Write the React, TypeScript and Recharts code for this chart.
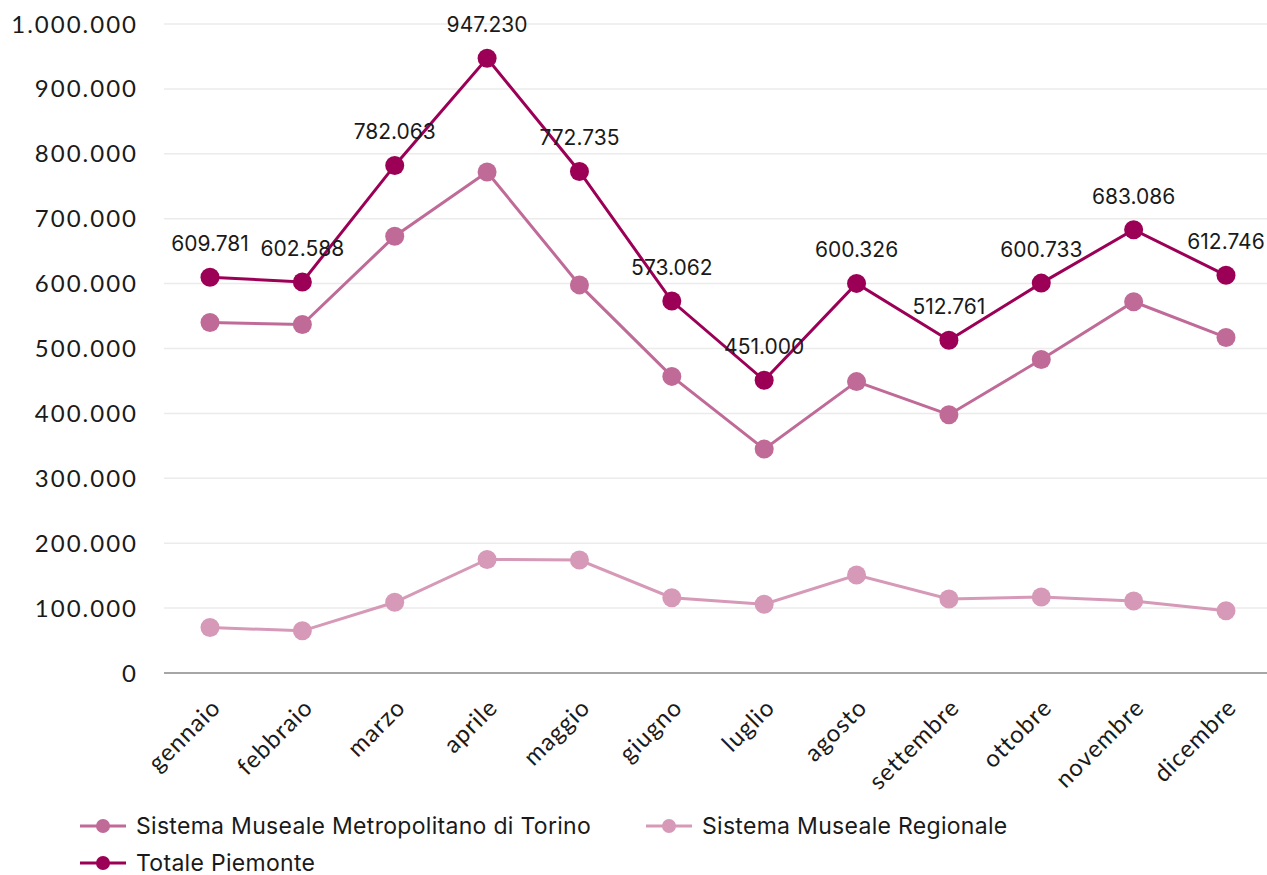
import React from "react";
import {
  LineChart,
  Line,
  XAxis,
  YAxis,
  CartesianGrid,
  Legend,
  LabelList,
} from "recharts";

const months = [
  "gennaio",
  "febbraio",
  "marzo",
  "aprile",
  "maggio",
  "giugno",
  "luglio",
  "agosto",
  "settembre",
  "ottobre",
  "novembre",
  "dicembre",
];

const metropolitano = [
  540000, 537000, 673000, 772000, 598000, 457000, 345000, 449000, 398000,
  483000, 572000, 517000,
];

const regionale = [
  70000, 65000, 109000, 175000, 174000, 116000, 106000, 151000, 114000,
  117000, 111000, 96000,
];

const totale = [
  609781, 602588, 782063, 947230, 772735, 573062, 451000, 600326, 512761,
  600733, 683086, 612746,
];

const yTicks = [0, 100000, 200000, 300000, 400000, 500000, 600000, 700000, 800000, 900000, 1000000];

const series = [
  { key: "metro", name: "Sistema Museale Metropolitano di Torino", color: "#c06a98" },
  { key: "reg", name: "Sistema Museale Regionale", color: "#d699b8" },
  { key: "tot", name: "Totale Piemonte", color: "#9c0056" },
];

const data = months.map((m, i) => ({
  month: m,
  metro: metropolitano[i],
  reg: regionale[i],
  tot: totale[i],
}));

const fmt = (v: number) => v.toLocaleString("de-DE");

const FONT = "Lato, 'Open Sans', sans-serif";

function MyLegend() {
  return (
    <div
      style={{
        display: "flex",
        flexWrap: "wrap",
        width: 1000,
        fontFamily: "Inter, sans-serif",
        fontSize: 23,
        letterSpacing: 0.3,
        color: "#1a1a1a",
      }}
    >
      {series.map((s) => (
        <div
          key={s.key}
          style={{
            display: "flex",
            alignItems: "center",
            width: s.key === "metro" ? 566 : 420,
            height: 37,
          }}
        >
          <svg width={50} height={20} style={{ marginRight: 8 }}>
            <line x1={2} y1={10} x2={48} y2={10} stroke={s.color} strokeWidth={3} />
            <circle cx={25} cy={10} r={7} fill={s.color} />
          </svg>
          <span>{s.name}</span>
        </div>
      ))}
    </div>
  );
}

export default function App() {
  return (
    <div style={{ position: "absolute", left: 0, top: 0 }}>
      <LineChart
        width={1267}
        height={875}
        data={data}
        margin={{ top: 24, right: 0, bottom: 0, left: 0 }}
      >
        <CartesianGrid vertical={false} stroke="#ebebeb" strokeWidth={1.5} />
        <XAxis
          dataKey="month"
          axisLine={{ stroke: "#a6a6a6", strokeWidth: 2 }}
          tickLine={false}
          interval={0}
          angle={-45}
          textAnchor="end"
          height={128}
          padding={{ left: 46, right: 41 }}
          tickSize={0}
          tickMargin={24}
          tick={{ fontFamily: FONT, fontSize: 24, fill: "#1a1a1a", letterSpacing: 1 }}
        />
        <YAxis
          domain={[0, 1000000]}
          ticks={yTicks}
          tickFormatter={fmt}
          axisLine={false}
          tickLine={false}
          tickSize={0}
          tickMargin={26}
          width={164}
          tick={{ fontFamily: FONT, fontSize: 24, fill: "#1a1a1a", letterSpacing: 2 }}
        />
        <Legend
          verticalAlign="bottom"
          align="left"
          content={<MyLegend />}
          wrapperStyle={{ left: 78, bottom: -6 }}
        />
        <Line
          dataKey="metro"
          name={series[0].name}
          stroke={series[0].color}
          strokeWidth={3}
          dot={{ r: 9.5, fill: series[0].color, stroke: "none" }}
          activeDot={false}
          isAnimationActive={false}
        />
        <Line
          dataKey="reg"
          name={series[1].name}
          stroke={series[1].color}
          strokeWidth={3}
          dot={{ r: 9.5, fill: series[1].color, stroke: "none" }}
          activeDot={false}
          isAnimationActive={false}
        />
        <Line
          dataKey="tot"
          name={series[2].name}
          stroke={series[2].color}
          strokeWidth={3}
          dot={{ r: 9.5, fill: series[2].color, stroke: "none" }}
          activeDot={false}
          isAnimationActive={false}
        >
          <LabelList
            dataKey="tot"
            position="top"
            offset={26}
            formatter={(v: number) => fmt(v)}
            style={{ fontFamily: "Inter, sans-serif", fontSize: 21, fill: "#1a1a1a" }}
          />
        </Line>
      </LineChart>
    </div>
  );
}
